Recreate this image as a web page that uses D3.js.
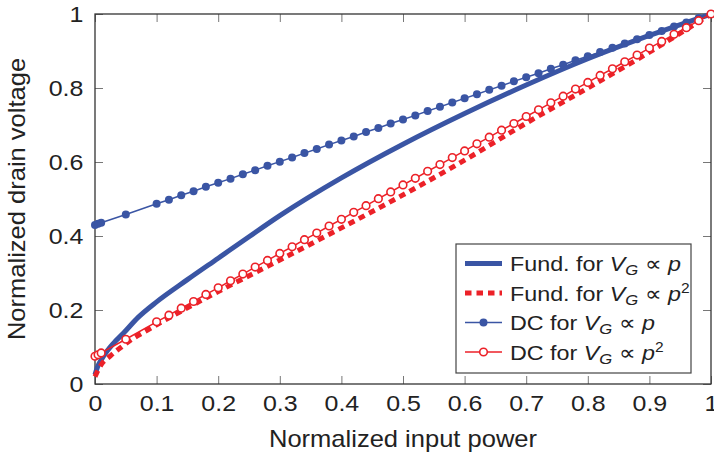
<!DOCTYPE html>
<html>
<head>
<meta charset="utf-8">
<script src="https://cdn.jsdelivr.net/npm/d3@7/dist/d3.min.js"></script>
<style>
  body { margin: 0; background: #fff; }
  svg { font-family: "Liberation Sans", Arial, Helvetica, sans-serif; }
</style>
</head>
<body>
<script>
// tick labels of both axes
var xTicks = [0, 0.1, 0.2, 0.3, 0.4, 0.5, 0.6, 0.7, 0.8, 0.9, 1];
var yTicks = [0, 0.2, 0.4, 0.6, 0.8, 1];

// fundamental, V_G proportional to p (thick blue line)
var fundPX = [0, 0.005, 0.01, 0.02, 0.03, 0.046, 0.07, 0.1, 0.15, 0.2, 0.25, 0.3, 0.4, 0.5, 0.6, 0.7, 0.8, 0.9, 1];
var fundPY = [0.025, 0.05, 0.065, 0.09, 0.11, 0.137, 0.18, 0.222, 0.282, 0.34, 0.398, 0.455, 0.557, 0.648, 0.731, 0.808, 0.879, 0.942, 1.0];

// fundamental, V_G proportional to p^2 (red dotted line)
var fundP2X = [0, 0.01, 0.025, 0.043, 0.06, 0.078, 0.1, 0.2, 0.3, 0.4, 0.5, 0.6, 0.7, 0.8, 0.9, 1];
var fundP2Y = [0.02, 0.052, 0.076, 0.1, 0.121, 0.139, 0.16, 0.25, 0.335, 0.422, 0.511, 0.605, 0.705, 0.8, 0.897, 1.0];

// input power where the DC points were measured
var dcX = [0, 0.005, 0.01, 0.05, 0.1, 0.12, 0.14, 0.16, 0.18, 0.2, 0.22, 0.24, 0.26, 0.28, 0.3,
           0.32, 0.34, 0.36, 0.38, 0.4, 0.42, 0.44, 0.46, 0.48, 0.5, 0.52, 0.54, 0.56, 0.58, 0.6,
           0.62, 0.64, 0.66, 0.68, 0.7, 0.72, 0.74, 0.76, 0.78, 0.8, 0.82, 0.84, 0.86, 0.88, 0.9,
           0.92, 0.94, 0.96, 0.98, 1];

// DC, V_G proportional to p (blue dots)
var dcPY = [0.430, 0.433, 0.436, 0.458, 0.487, 0.498, 0.510, 0.521, 0.533, 0.544, 0.555, 0.567, 0.578, 0.590, 0.601,
            0.612, 0.624, 0.635, 0.647, 0.658, 0.669, 0.681, 0.692, 0.704, 0.715, 0.726, 0.738, 0.749, 0.761, 0.772,
            0.783, 0.795, 0.806, 0.818, 0.829, 0.840, 0.852, 0.863, 0.875, 0.886, 0.897, 0.909, 0.920, 0.932, 0.943,
            0.954, 0.966, 0.977, 0.989, 1.000];

// DC, V_G proportional to p^2 (red open circles)
var dcP2Y = [0.075, 0.079, 0.084, 0.121, 0.168, 0.186, 0.205, 0.223, 0.242, 0.260, 0.279, 0.297, 0.316, 0.334, 0.353,
             0.371, 0.390, 0.408, 0.427, 0.445, 0.464, 0.482, 0.501, 0.519, 0.538, 0.556, 0.575, 0.593, 0.612, 0.630,
             0.649, 0.667, 0.686, 0.704, 0.723, 0.741, 0.760, 0.778, 0.797, 0.815, 0.834, 0.852, 0.871, 0.889, 0.908,
             0.926, 0.945, 0.963, 0.982, 1.000];

var blue = "#3a55a4";
var red = "#ec2128";
var textColor = "#222";
var stretch = 1.11; // the fonts in the picture are a bit wider than Helvetica

var width = 714, height = 455;
// plot area edges (not called top/left, window.top is read-only)
var plotL = 95, plotR = 711, plotT = 14, plotB = 384;

var svg = d3.select("body").append("svg")
    .attr("width", width)
    .attr("height", height);

var x = d3.scaleLinear().domain([0, 1]).range([plotL, plotR]);
var y = d3.scaleLinear().domain([0, 1]).range([plotB, plotT]);

function fmt(d) { return String(d); }

// axes, ticks pointing inward
var gx = svg.append("g")
    .attr("transform", "translate(0," + plotB + ")")
    .call(d3.axisBottom(x).tickValues(xTicks).tickFormat(fmt).tickSize(-8).tickSizeOuter(0).tickPadding(11));
var gy = svg.append("g")
    .attr("transform", "translate(" + plotL + ",0)")
    .call(d3.axisLeft(y).tickValues(yTicks).tickFormat(fmt).tickSize(-8).tickSizeOuter(0).tickPadding(10.5));
var gt = svg.append("g")
    .attr("transform", "translate(0," + plotT + ")")
    .call(d3.axisTop(x).tickValues(xTicks).tickFormat("").tickSize(-8).tickSizeOuter(0));
var gr = svg.append("g")
    .attr("transform", "translate(" + plotR + ",0)")
    .call(d3.axisRight(y).tickValues(yTicks).tickFormat("").tickSize(-8).tickSizeOuter(0));

[gx, gy, gt, gr].forEach(function(g) {
  g.select(".domain").remove();
  g.selectAll(".tick line").attr("stroke", "#777").attr("stroke-width", 1);
  g.selectAll(".tick text")
   .attr("fill", textColor)
   .style("font-size", "22.5px")
   .style("font-family", "'Liberation Sans', Arial, sans-serif")
   .attr("transform", "scale(" + stretch + ",1)");
});
gx.selectAll(".tick text").attr("dy", null).attr("y", 27.5);

// frame
svg.append("rect")
   .attr("x", plotL).attr("y", plotT)
   .attr("width", plotR - plotL).attr("height", plotB - plotT)
   .attr("fill", "none")
   .attr("stroke", "#333")
   .attr("stroke-width", 1.3);

// axis titles
svg.append("text")
   .attr("transform", "translate(" + ((plotL + plotR) / 2) + "," + 446.5 + ") scale(" + stretch + ",1)")
   .attr("text-anchor", "middle")
   .attr("fill", textColor)
   .style("font-size", "23px")
   .text("Normalized input power");

svg.append("text")
   .attr("transform", "translate(" + 25 + "," + ((plotT + plotB) / 2) + ") rotate(-90) scale(" + stretch + ",1)")
   .attr("text-anchor", "middle")
   .attr("fill", textColor)
   .style("font-size", "23px")
   .text("Normalized drain voltage");

// line generators
var smooth = d3.line()
    .x(function(d) { return x(d[0]); })
    .y(function(d) { return y(d[1]); })
    .curve(d3.curveMonotoneX);
var straight = d3.line()
    .x(function(d) { return x(d[0]); })
    .y(function(d) { return y(d[1]); });

var fundP = d3.zip(fundPX, fundPY);
var fundP2 = d3.zip(fundP2X, fundP2Y);
var dcP = d3.zip(dcX, dcPY);
var dcP2 = d3.zip(dcX, dcP2Y);

// fundamental, V_G ~ p
svg.append("path")
   .datum(fundP)
   .attr("d", smooth)
   .attr("fill", "none")
   .attr("stroke", blue)
   .attr("stroke-width", 5);

// fundamental, V_G ~ p^2
svg.append("path")
   .datum(fundP2)
   .attr("d", smooth)
   .attr("fill", "none")
   .attr("stroke", red)
   .attr("stroke-width", 5)
   .attr("stroke-dasharray", "6.5,5");

// DC, V_G ~ p
svg.append("path")
   .datum(dcP)
   .attr("d", straight)
   .attr("fill", "none")
   .attr("stroke", blue)
   .attr("stroke-width", 1.5);
svg.selectAll("circle.dcp")
   .data(dcP)
   .enter()
   .append("circle")
   .attr("class", "dcp")
   .attr("cx", function(d) { return x(d[0]); })
   .attr("cy", function(d) { return y(d[1]); })
   .attr("r", 4)
   .attr("fill", blue);

// DC, V_G ~ p^2
svg.append("path")
   .datum(dcP2)
   .attr("d", straight)
   .attr("fill", "none")
   .attr("stroke", red)
   .attr("stroke-width", 1.5);
svg.selectAll("circle.dcp2")
   .data(dcP2)
   .enter()
   .append("circle")
   .attr("class", "dcp2")
   .attr("cx", function(d) { return x(d[0]); })
   .attr("cy", function(d) { return y(d[1]); })
   .attr("r", 3.8)
   .attr("fill", "#fff")
   .attr("stroke", red)
   .attr("stroke-width", 1.6);

// legend
var legend = svg.append("g");
legend.append("rect")
   .attr("x", 456).attr("y", 244)
   .attr("width", 235).attr("height", 129)
   .attr("fill", "#fff")
   .attr("stroke", "#444")
   .attr("stroke-width", 1.2);

var entries = [
  { name: "Fund. for ", sq: false, color: blue, width: 5, dash: null, marker: null },
  { name: "Fund. for ", sq: true, color: red, width: 5, dash: "6.5,5", marker: null },
  { name: "DC for ", sq: false, color: blue, width: 1.5, dash: null, marker: "dot" },
  { name: "DC for ", sq: true, color: red, width: 1.5, dash: null, marker: "circle" }
];

entries.forEach(function(e, i) {
  var cy = 263.5 + i * 29.5;
  legend.append("line")
     .attr("x1", 465).attr("x2", 502)
     .attr("y1", cy).attr("y2", cy)
     .attr("stroke", e.color)
     .attr("stroke-width", e.width)
     .attr("stroke-dasharray", e.dash);
  if (e.marker === "dot") {
    legend.append("circle").attr("cx", 483.5).attr("cy", cy).attr("r", 4).attr("fill", e.color);
  }
  if (e.marker === "circle") {
    legend.append("circle").attr("cx", 483.5).attr("cy", cy).attr("r", 3.8)
       .attr("fill", "#fff").attr("stroke", e.color).attr("stroke-width", 1.6);
  }
  var t = legend.append("text")
     .attr("transform", "translate(510," + (cy + 7.5) + ") scale(" + stretch + ",1)")
     .attr("fill", textColor)
     .style("font-size", "21px");
  t.append("tspan").text(e.name);
  t.append("tspan").style("font-style", "italic").text("V");
  t.append("tspan").style("font-style", "italic").style("font-size", "15px")
     .attr("dy", 4).text("G");
  t.append("tspan").attr("dy", -4).style("font-size", "21px").text(" \u221D ");
  t.append("tspan").style("font-style", "italic").text("p");
  if (e.sq) {
    t.append("tspan").style("font-size", "14px").attr("dy", -8).text("2");
  }
});
</script>
</body>
</html>
